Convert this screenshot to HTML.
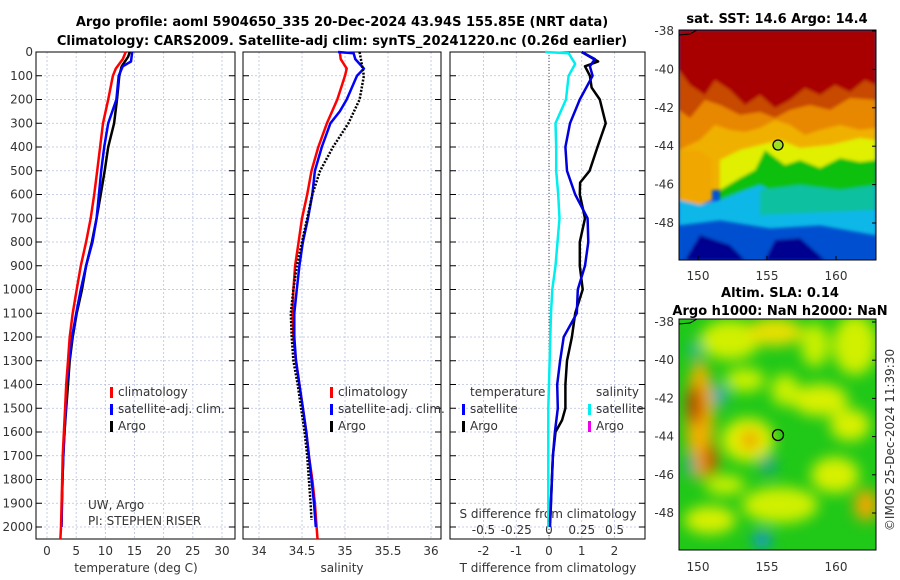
<!DOCTYPE html>
<html><head><meta charset="utf-8">
<style>
body{margin:0;background:#fff;}
svg{display:block;font-family:"DejaVu Sans","Liberation Sans",sans-serif;}
.t{font-weight:bold;font-size:13px;fill:#000;}
.tk{font-size:12px;fill:#333;}
</style></head>
<body>
<svg id="c" width="900" height="580" viewBox="0 0 900 580">
<defs>
<filter id="bl" x="-50%" y="-50%" width="200%" height="200%"><feGaussianBlur stdDeviation="7"/></filter>
<filter id="bl2"><feGaussianBlur stdDeviation="1.5"/></filter>
<clipPath id="m1c"><rect x="679" y="30" width="197" height="230"/></clipPath>
<clipPath id="m2c"><rect x="679" y="319" width="197" height="231"/></clipPath>
</defs>
<text class="t" x="342" y="26" text-anchor="middle">Argo profile: aoml 5904650_335 20-Dec-2024 43.94S 155.85E (NRT data)</text>
<text class="t" x="342" y="45" text-anchor="middle">Climatology: CARS2009. Satellite-adj clim: synTS_20241220.nc (0.26d earlier)</text>
<g id="plots"></g>

<g>
<text class="t" x="777" y="23" text-anchor="middle">sat. SST: 14.6 Argo: 14.4</text>
<g clip-path="url(#m1c)">
<rect x="679" y="30" width="197" height="230" fill="#0050d8"/>
<g filter="url(#bl2)">
<rect x="679" y="30" width="197" height="100" fill="#a80000"/>
<path d="M679 70 L690 85 L705 95 L715 80 L730 90 L745 105 L760 95 L775 108 L790 100 L805 88 L820 95 L835 85 L850 92 L865 80 L876 85 L876 140 L679 140Z" fill="#c84800"/>
<path d="M679 110 L690 118 L705 100 L720 105 L740 115 L760 112 L775 118 L790 110 L810 105 L830 110 L850 98 L876 100 L876 160 L679 160Z" fill="#e88800"/>
<path d="M679 150 L700 140 L715 125 L730 130 L745 132 L760 128 L775 120 L790 125 L805 135 L820 130 L840 125 L860 130 L876 128 L876 190 L679 190Z" fill="#f0b000"/>
<path d="M720 160 L740 150 L760 145 L780 140 L800 148 L830 145 L860 138 L876 140 L876 200 L720 200Z" fill="#e0f000"/>
<path d="M720 190 L740 178 L755 170 L765 150 L785 165 L800 160 L820 168 L840 158 L860 162 L876 160 L876 215 L720 215Z" fill="#10c010"/>
<path d="M679 150 L700 150 L712 160 L712 200 L700 205 L679 200Z" fill="#f0a800"/>
<path d="M679 200 L700 205 L720 200 L740 192 L760 185 L780 195 L800 200 L830 198 L850 205 L876 200 L876 235 L679 235Z" fill="#10b8e8"/>
<path d="M760 190 L800 185 L840 190 L876 185 L876 210 L760 215Z" fill="#10c0a0"/>
<path d="M679 225 L720 220 L770 228 L820 225 L876 235 L876 260 L679 260Z" fill="#0050d0"/>
<path d="M685 260 L700 235 L730 245 L745 260 Z M765 260 L775 240 L800 238 L825 260Z" fill="#000090"/>
</g>
</g>
<rect x="679" y="30" width="197" height="230" fill="none" stroke="#000" stroke-width="1"/>
<circle cx="778" cy="145" r="5" fill="#a0e020" stroke="#000" stroke-width="1.3"/>
<path d="M679 35 L690 34 L697 30" fill="none" stroke="#000"/>
</g>
<g>
<text class="t" x="780" y="297" text-anchor="middle">Altim. SLA: 0.14</text>
<text class="t" x="780" y="315" text-anchor="middle">Argo h1000: NaN h2000: NaN</text>
<g clip-path="url(#m2c)">
<rect x="679" y="319" width="197" height="231" fill="#20c818"/>
<g filter="url(#bl)">
<ellipse cx="730" cy="340" rx="30" ry="20" fill="#d0f000"/>
<ellipse cx="775" cy="332" rx="28" ry="14" fill="#e8e000"/>
<ellipse cx="855" cy="345" rx="22" ry="30" fill="#d0f000"/>
<ellipse cx="815" cy="345" rx="14" ry="22" fill="#c8f000"/>
<ellipse cx="745" cy="380" rx="20" ry="12" fill="#c8f000"/>
<ellipse cx="785" cy="390" rx="14" ry="16" fill="#c8f000"/>
<ellipse cx="700" cy="420" rx="14" ry="60" fill="#f0b000"/>
<ellipse cx="695" cy="405" rx="8" ry="20" fill="#c04000"/>
<ellipse cx="710" cy="460" rx="8" ry="16" fill="#d06000"/>
<ellipse cx="748" cy="440" rx="26" ry="22" fill="#e0f000"/>
<ellipse cx="750" cy="440" rx="9" ry="10" fill="#f0a000"/>
<ellipse cx="820" cy="400" rx="28" ry="16" fill="#d8f000"/>
<ellipse cx="850" cy="425" rx="20" ry="16" fill="#d8f000"/>
<ellipse cx="835" cy="475" rx="24" ry="18" fill="#d8f000"/>
<ellipse cx="780" cy="505" rx="38" ry="18" fill="#d0f000"/>
<ellipse cx="866" cy="505" rx="12" ry="16" fill="#f0a800"/>
<ellipse cx="710" cy="520" rx="26" ry="14" fill="#d8f000"/>
<ellipse cx="725" cy="485" rx="20" ry="10" fill="#c8f000"/>
<ellipse cx="695" cy="350" rx="6" ry="8" fill="#10b0b0"/>
<ellipse cx="720" cy="395" rx="6" ry="10" fill="#20a0e0"/>
<ellipse cx="690" cy="465" rx="5" ry="12" fill="#10a0a0"/>
<ellipse cx="768" cy="465" rx="8" ry="10" fill="#10a090"/>
<ellipse cx="762" cy="540" rx="9" ry="8" fill="#1090f0"/>
</g>
</g>
<rect x="679" y="319" width="197" height="231" fill="none" stroke="#000" stroke-width="1"/>
<circle cx="778" cy="435" r="5.5" fill="none" stroke="#000" stroke-width="1.3"/>
<path d="M679 324 L690 323 L697 319" fill="none" stroke="#000"/>
<text class="tk" transform="translate(894,440) rotate(-90)" text-anchor="middle">©IMOS 25-Dec-2024 11:39:30</text>
</g>
<g id="maxes"></g>
</svg>
<script>
const NS="http://www.w3.org/2000/svg";
const root=document.getElementById('plots');
function E(tag,at,par){const e=document.createElementNS(NS,tag);for(const k in at)e.setAttribute(k,at[k]);(par||root).appendChild(e);return e;}
const depthTicks=[0,100,200,300,400,500,600,700,800,900,1000,1100,1200,1300,1400,1500,1600,1700,1800,1900,2000];
const tempTicks=[0,5,10,15,20,25,30];
const salTicks=[34,34.5,35,35.5,36];
const salTickLabels=["34","34.5","35","35.5","36"];
const tdTicks=[-2,-1,0,1,2];
const sdTicks=[-0.5,-0.25,0,0.25,0.5];
const sdTickLabels=["-0.5","-0.25","0","0.25","0.5"];
const tClimD=[0,30,70,100,200,300,400,500,600,700,800,900,1000,1100,1200,1300,1400,1500,1600,1700,1800,1900,2000,2050];
const tClim=[13.5,13.0,11.8,11.3,10.5,9.6,9.1,8.6,8.1,7.5,6.7,5.8,5.1,4.4,3.9,3.6,3.3,3.1,2.9,2.7,2.6,2.5,2.4,2.3];
const tSatD=[0,40,60,100,200,300,400,500,600,700,800,900,1000,1100,1200,1300,1400,1500,1600,1700,1800,1900,2000];
const tSat=[14.6,14.4,13.0,12.3,11.9,10.5,9.8,9.3,8.9,8.5,7.8,6.7,5.8,5.0,4.3,3.8,3.4,3.2,3.0,2.8,2.65,2.55,2.5];
const tArgoD=[0,20,60,100,200,300,400,500,600,700,800,900,1000,1100,1200,1300,1400,1500,1600,1700,1800,1900,1980];
const tArgo=[14.2,13.9,12.8,12.4,12.0,11.5,10.5,9.9,9.2,8.5,7.7,6.7,6.0,5.1,4.4,3.9,3.6,3.3,3.0,2.8,2.65,2.55,2.5];
const sClimD=[0,30,70,100,200,300,400,500,600,700,800,900,1000,1100,1200,1300,1400,1500,1600,1700,1800,1900,2000,2050];
const sClim=[34.94,34.95,35.02,35.0,34.91,34.79,34.69,34.61,34.56,34.5,34.46,34.42,34.4,34.39,34.4,34.43,34.47,34.51,34.55,34.58,34.62,34.65,34.67,34.68];
const sSatD=[0,5,30,70,100,200,250,300,400,500,600,700,800,900,1000,1100,1200,1300,1400,1500,1600,1700,1800,1900,2000];
const sSat=[34.92,35.1,35.12,35.22,35.14,35.02,34.94,34.83,34.73,34.65,34.62,34.57,34.51,34.47,34.44,34.41,34.41,34.43,34.47,34.51,34.55,34.58,34.61,34.64,34.66];
const sArgoD=[0,100,200,300,400,500,600,700,800,900,1000,1100,1200,1300,1400,1500,1600,1700,1800,1900,1970];
const sArgo=[35.17,35.22,35.17,35.04,34.86,34.71,34.62,34.56,34.5,34.44,34.4,34.37,34.38,34.4,34.45,34.49,34.53,34.56,34.58,34.6,34.61];
const dSD=[0,5,50,100,200,300,400,500,600,700,800,900,1000,1100,1200,1500,2000];
const dSsat=[-0.03,0.15,0.2,0.15,0.13,0.05,0.055,0.055,0.07,0.08,0.065,0.05,0.025,0.015,0.01,-0.005,-0.005];
const dTD=[0,30,60,100,200,300,400,500,600,700,800,900,1000,1100,1200,1300,1400,1500,1600,1700,1800,1900,2000];
const dTsat=[1.0,1.4,1.25,1.33,0.94,0.64,0.5,0.55,0.8,1.18,1.2,1.1,0.88,0.85,0.45,0.34,0.25,0.27,0.18,0.12,0.09,0.06,0.03];
const dTArgoD=[0,20,40,60,100,150,200,300,400,500,550,600,700,800,900,1000,1100,1200,1300,1400,1500,1550,1600,1700,1800,1980];
const dTArgo=[1.0,1.25,1.5,1.1,1.25,1.3,1.55,1.73,1.48,1.24,0.95,0.94,1.1,0.94,0.94,1.03,0.8,0.7,0.55,0.5,0.5,0.4,0.2,0.12,0.09,0.03];

const Y=d=>52+d*0.2375;
const panels=[
 {x0:36,x1:235,X:v=>47+v*5.833,name:'temperature'},
 {x0:243,x1:441,X:v=>259+(v-34)*86,name:'salinity'},
 {x0:450,x1:645,X:v=>549+v*32.75,name:'difference'}];
const XS=v=>549+v*131;
const yb=539;
function grid(p,ticks){
 ticks.forEach(t=>{const g=E('line',{x1:p.X(t),x2:p.X(t),y1:52,y2:yb,stroke:'#b8c0e0','stroke-width':0.8,'stroke-dasharray':'2,2'});});
 depthTicks.forEach(d=>{const g=E('line',{x1:p.x0,x2:p.x1,y1:Y(d),y2:Y(d),stroke:'#b8c0e0','stroke-width':0.8,'stroke-dasharray':'2,2'});
  E('line',{x1:p.x0,x2:p.x0+6,y1:Y(d),y2:Y(d),stroke:'#000'});E('line',{x1:p.x1-6,x2:p.x1,y1:Y(d),y2:Y(d),stroke:'#000'});});
 const f=E('rect',{x:p.x0,y:52,width:p.x1-p.x0,height:yb-52,fill:'none',stroke:'#000','stroke-width':1});
 
}
function line(X,vals,ds,col,w,dash,name){
 const pts=vals.map((v,i)=>X(v).toFixed(1)+','+Y(ds[i]).toFixed(1)).join(' ');
 const a={points:pts,fill:'none',stroke:col,'stroke-width':w,'stroke-linejoin':'round'};
 if(dash)a['stroke-dasharray']=dash;
 const l=E('polyline',a);
}
function txt(x,y,s,anc,cls,name,fs){const t=E('text',{x:x,y:y,'text-anchor':anc||'start',class:cls||'tk'});if(fs)t.setAttribute('font-size',fs);t.textContent=s;return t;}

grid(panels[0],tempTicks);grid(panels[1],salTicks);grid(panels[2],tdTicks);
depthTicks.forEach(d=>txt(33,Y(d)+4,String(d),'end','tk','depth-tick-label'));
tempTicks.forEach(t=>txt(panels[0].X(t),555,String(t),'middle','tk','temp-tick-label'));
salTicks.forEach((t,i)=>txt(panels[1].X(t),555,salTickLabels[i],'middle','tk','sal-tick-label'));
tdTicks.forEach(t=>txt(panels[2].X(t),555,String(t),'middle','tk','tdiff-tick-label'));
sdTicks.forEach((t,i)=>txt(XS(t),534,sdTickLabels[i],'middle','tk','sdiff-tick-label'));
txt(136,572,'temperature (deg C)','middle','tk','temp-axis-title',13);
txt(342,572,'salinity','middle','tk','sal-axis-title',13);
txt(548,572,'T difference from climatology','middle','tk','tdiff-axis-title',13);
txt(548,518,'S difference from climatology','middle','tk','sdiff-axis-title',13);
txt(88,509,'UW, Argo','start','tk','source-label',11);
txt(88,525,'PI: STEPHEN RISER','start','tk','pi-label',11);

const zl=E('line',{x1:549,x2:549,y1:52,y2:yb,stroke:'#444','stroke-dasharray':'1,2'});
line(panels[0].X,tArgo,tArgoD,'#000',2.5,null,'temp-argo-line');
line(panels[0].X,tSat,tSatD,'#0000ff',2.5,null,'temp-satellite-line');
line(panels[0].X,tClim,tClimD,'#ff0000',2.5,null,'temp-climatology-line');
line(panels[1].X,sClim,sClimD,'#ff0000',2.5,null,'sal-climatology-line');
line(panels[1].X,sSat,sSatD,'#0000ff',2.5,null,'sal-satellite-line');
line(panels[1].X,sArgo,sArgoD,'#000',2.5,'2,1.5','sal-argo-line');
line(XS,dSsat,dSD,'#00eeee',2.5,null,'sdiff-satellite-line');
line(panels[2].X,dTArgo,dTArgoD,'#000',2.5,null,'tdiff-argo-line');
line(panels[2].X,dTsat,dTD,'#0000dd',2.5,null,'tdiff-satellite-line');

function leg(x,y,col,label,name){const m=E('rect',{x:x,y:y-9,width:3,height:11,fill:col});if(label)txt(x+8,y,label,'start','tk',name,13);}
[[110,'climatology','#ff0000'],[110,'satellite-adj. clim.','#0000ff'],[110,'Argo','#000']].forEach((r,i)=>leg(r[0],396+i*17,r[2],r[1],'legend-temp-'+i));
[[330,'climatology','#ff0000'],[330,'satellite-adj. clim.','#0000ff'],[330,'Argo','#000']].forEach((r,i)=>leg(r[0],396+i*17,r[2],r[1],'legend-sal-'+i));
txt(470,396,'temperature','start','tk','legend-diff-temp-header',13);
txt(596,396,'salinity','start','tk','legend-diff-sal-header',13);
leg(462,413,'#0000ff','satellite','legend-diff-t-sat');
leg(462,430,'#000','Argo','legend-diff-t-argo');
leg(588,413,'#00eeee','satellite','legend-diff-s-sat');
leg(588,430,'#ee00ee','Argo','legend-diff-s-argo');

const mx=document.getElementById('maxes');
const lonTicks=[150,155,160];
const lat1=[-38,-40,-42,-44,-46,-48];
const LX=l=>698+(l-150)*13.8;
function mt(x,y,s,anc,name){const t=E('text',{x:x,y:y,'text-anchor':anc,class:'tk'},mx);t.textContent=s;}
lat1.forEach(l=>{const y=31+(-38-l)*19.2;mt(674,y+4,String(l),'end','sst-lat-label');E('line',{x1:876,x2:872,y1:y,y2:y,stroke:'#000'},mx);});
lonTicks.forEach(l=>{mt(LX(l),280,String(l),'middle','sst-lon-label');E('line',{x1:LX(l),x2:LX(l),y1:260,y2:256,stroke:'#000'},mx);});
lat1.forEach(l=>{const y=322+(-38-l)*19.1;mt(674,y+4,String(l),'end','sla-lat-label');E('line',{x1:876,x2:872,y1:y,y2:y,stroke:'#000'},mx);});
lonTicks.forEach(l=>mt(LX(l),571,String(l),'middle','sla-lon-label'));
</script>
</body></html>
